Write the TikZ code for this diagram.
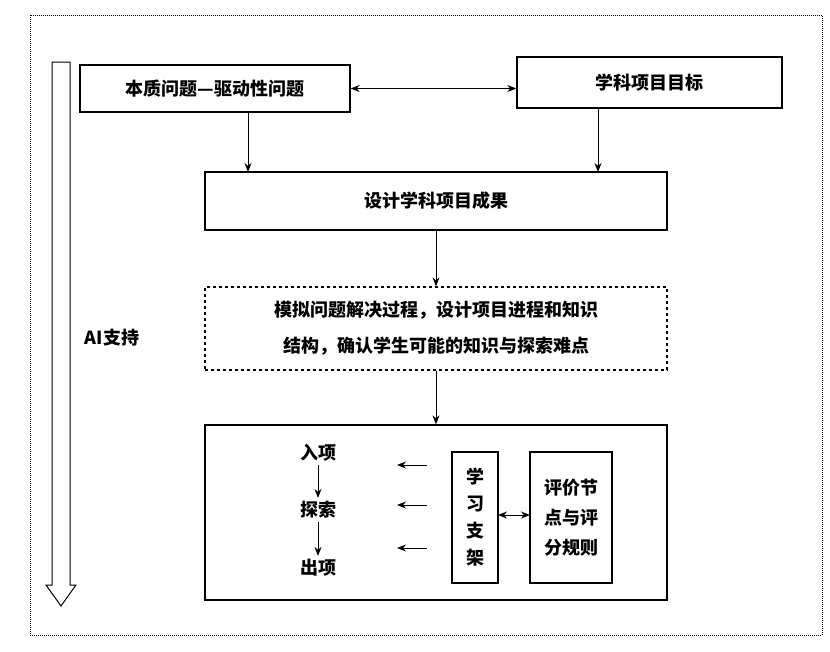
\documentclass[tikz,border=0pt]{standalone}
\usepackage{fontspec}
\setmainfont{Noto Sans CJK SC}
\usetikzlibrary{arrows.meta}
\begin{document}
\begin{tikzpicture}[x=1pt,y=-1pt,
  box/.style={draw,line width=1.3pt,inner sep=0pt},
  txt/.style={font=\fontsize{18}{30}\selectfont\bfseries},
  arr/.style={-{Stealth[length=9pt,width=7pt]},line width=1pt},
  darr/.style={{Stealth[length=9pt,width=7pt]}-{Stealth[length=9pt,width=7pt]},line width=1pt}]
\useasboundingbox (0,0) rectangle (830,651);
\draw[densely dotted,line width=1pt] (30,15) rectangle (822,635);
% hollow arrow
\draw[line width=1pt] (52,62) -- (70,62) -- (70,585) -- (76,585) -- (61,606) -- (46,585) -- (52,585) -- cycle;
\node[txt] (ai) at (112,338) {AI支持};
\node[box,txt,minimum width=270pt,minimum height=47pt] (a) at (215,88.5) {本质问题—驱动性问题};
\node[box,txt,minimum width=265pt,minimum height=51pt] (b) at (649.5,82.5) {学科项目目标};
\node[box,txt,minimum width=462pt,minimum height=58pt] (c) at (436,201) {设计学科项目成果};
\node[box,dashed,txt,minimum width=462pt,minimum height=83pt,align=center,font=\fontsize{18}{36}\selectfont\bfseries] (d) at (436,328.5) {模拟问题解决过程，设计项目进程和知识\\结构，确认学生可能的知识与探索难点};
\node[box,minimum width=462pt,minimum height=175pt] (e) at (436,512.5) {};
\draw[darr] (a.east) -- (a.east -| b.west);
\draw[arr] (248,112) -- (248,172);
\draw[arr] (598,108) -- (598,172);
\draw[arr] (c.south) -- (d.north);
\draw[arr] (d.south) -- (e.north);
\node[txt] (r1) at (318,453) {入项};
\node[txt] (r2) at (318,510) {探索};
\node[txt] (r3) at (318,568) {出项};
\draw[arr] (r1.south) -- (r2.north);
\draw[arr] (r2.south) -- (r3.north);
\node[box,txt,minimum width=46pt,minimum height=131pt,align=center,font=\fontsize{18}{27}\selectfont\bfseries] (f) at (475,517.5) {学\\习\\支\\架};
\node[box,txt,minimum width=82pt,minimum height=131pt,align=center,font=\fontsize{18}{30}\selectfont\bfseries] (g) at (571,517.5) {评价节\\点与评\\分规则};
\draw[darr] (498,515) -- (530,515);
\coordinate (p1) at (427,465); \coordinate (q1) at (397,465);
\coordinate (p2) at (427,505); \coordinate (q2) at (397,505);
\coordinate (p3) at (427,548); \coordinate (q3) at (397,548);
\draw[arr] (p1) -- (q1);
\draw[arr] (p2) -- (q2);
\draw[arr] (p3) -- (q3);
\end{tikzpicture}
\end{document}
